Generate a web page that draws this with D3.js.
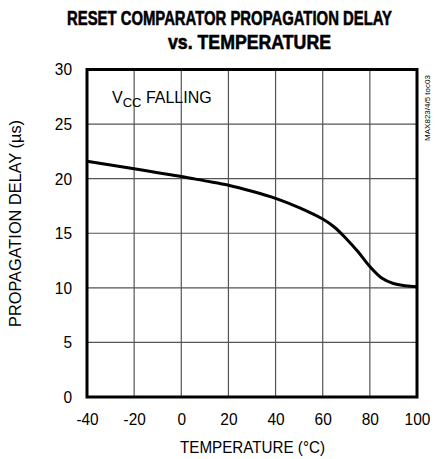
<!DOCTYPE html>
<html>
<head>
<meta charset="utf-8">
<script src="https://cdn.jsdelivr.net/npm/d3@7"></script>
<style>
  body { margin: 0; background: #fff; }
  text { font-family: "Liberation Sans Narrow", "Liberation Sans", Arial, sans-serif; fill: #000; }
</style>
</head>
<body>
<div id="chart"></div>
<script>
// values
var temps = [-40, -30, -20, -10, 0, 10, 20, 30, 40, 50, 60, 65, 70, 75, 80, 85, 90, 95, 100];
var delays = [21.6, 21.25, 20.9, 20.55, 20.2, 19.8, 19.4, 18.85, 18.2, 17.35, 16.3, 15.55, 14.5, 13.3, 11.95, 10.9, 10.4, 10.2, 10.1];
var xTicks = [-40, -20, 0, 20, 40, 60, 80, 100];
var yTicks = [0, 5, 10, 15, 20, 25, 30];

(function () {
  var width = 446, height = 459;
  var pLeft = 87, pRight = 417, pTop = 69.5, pBottom = 397;

  var svg = d3.select("#chart").append("svg")
    .attr("width", width).attr("height", height);

  var x = d3.scaleLinear().domain([-40, 100]).range([pLeft, pRight]);
  var y = d3.scaleLinear().domain([0, 30]).range([pBottom, pTop]);

  // title, heavy condensed look
  svg.append("text").attr("x", 67).attr("y", 25)
    .attr("textLength", 325).attr("lengthAdjust", "spacingAndGlyphs")
    .style("font-size", "21px").style("font-weight", "bold")
    .style("stroke", "#000").style("stroke-width", 0.6)
    .text("RESET COMPARATOR PROPAGATION DELAY");
  svg.append("text").attr("x", 168).attr("y", 49)
    .attr("textLength", 163).attr("lengthAdjust", "spacingAndGlyphs")
    .style("font-size", "21px").style("font-weight", "bold")
    .style("stroke", "#000").style("stroke-width", 0.6)
    .text("vs. TEMPERATURE");

  // grid
  var g = svg.append("g");
  g.selectAll("line.vx").data(xTicks.slice(1, -1)).enter().append("line")
    .attr("x1", function(d){ return x(d); }).attr("x2", function(d){ return x(d); })
    .attr("y1", pTop).attr("y2", pBottom)
    .style("stroke", "#555").style("stroke-width", 1.2);
  g.selectAll("line.hy").data(yTicks.slice(1, -1)).enter().append("line")
    .attr("y1", function(d){ return y(d); }).attr("y2", function(d){ return y(d); })
    .attr("x1", pLeft).attr("x2", pRight)
    .style("stroke", "#555").style("stroke-width", 1.2);

  // axes (labels only, frame drawn below)
  var fmt = function(d){ return String(d); };
  var xAxis = svg.append("g").attr("transform", "translate(0," + pBottom + ")")
    .call(d3.axisBottom(x).tickValues(xTicks).tickFormat(fmt).tickSize(0).tickPadding(16));
  var yAxis = svg.append("g").attr("transform", "translate(" + pLeft + ",0)")
    .call(d3.axisLeft(y).tickValues(yTicks).tickFormat(fmt).tickSize(0).tickPadding(15));
  [xAxis, yAxis].forEach(function(a){
    a.select(".domain").remove();
    a.selectAll("text").style("font-size", "17px")
      .style("font-family", "'Liberation Sans Narrow', 'Liberation Sans', Arial, sans-serif")
      .attr("textLength", function(d){ return String(d).replace("-", "").length * 8.6 + (d < 0 ? 5 : 0); })
      .attr("lengthAdjust", "spacingAndGlyphs");
  });

  // curve
  var line = d3.line()
    .x(function(d, i){ return x(temps[i]); })
    .y(function(d){ return y(d); })
    .curve(d3.curveCatmullRom.alpha(0.5));
  svg.append("path").datum(delays)
    .attr("d", line)
    .style("fill", "none").style("stroke", "#000").style("stroke-width", 3);

  // frame
  svg.append("rect")
    .attr("x", pLeft).attr("y", pTop)
    .attr("width", pRight - pLeft).attr("height", pBottom - pTop)
    .style("fill", "none").style("stroke", "#000").style("stroke-width", 3);

  // annotation
  var ann = svg.append("text").attr("x", 112).attr("y", 103).style("font-size", "16px");
  ann.append("tspan").text("V");
  ann.append("tspan").attr("dy", 4).style("font-size", "13px").text("CC");
  ann.append("tspan").attr("dy", -4).text(" FALLING");

  // axis titles
  svg.append("text").attr("x", 180).attr("y", 453)
    .attr("textLength", 145).attr("lengthAdjust", "spacingAndGlyphs")
    .style("font-size", "17px")
    .text("TEMPERATURE (\u00B0C)");
  svg.append("text")
    .attr("transform", "translate(21,327) rotate(-90)")
    .attr("textLength", 207).attr("lengthAdjust", "spacingAndGlyphs")
    .style("font-size", "17px")
    .text("PROPAGATION DELAY (\u00B5s)");

  // part number tag
  svg.append("text")
    .attr("transform", "translate(430,108) rotate(-90)")
    .style("text-anchor", "middle").style("font-size", "8px")
    .text("MAX823/4/5 toc03");
})();
</script>
</body>
</html>
